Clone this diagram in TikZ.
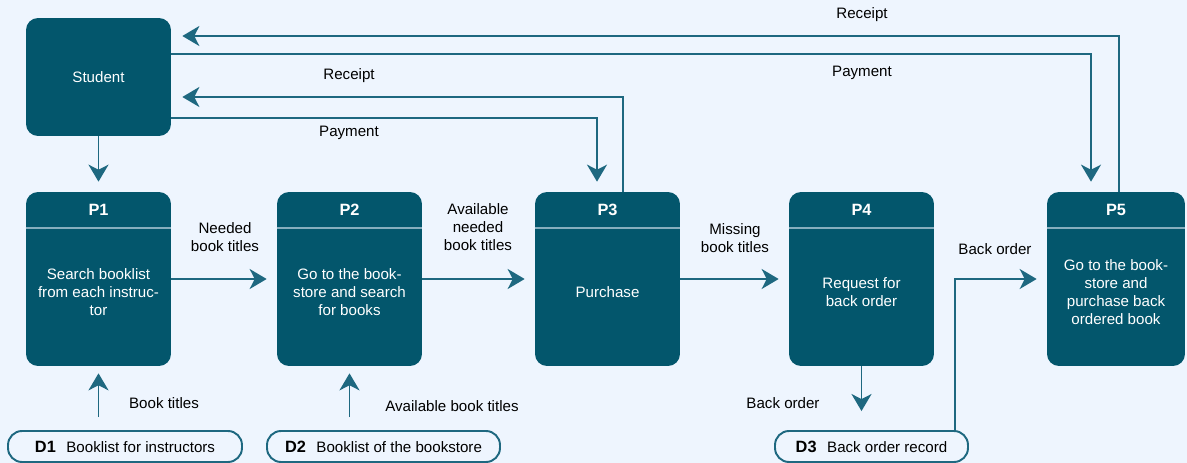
\documentclass[tikz,border=0pt]{standalone}
\usepackage{fontspec}
\setmainfont{Liberation Sans}
\usetikzlibrary{arrows.meta,calc}
\definecolor{BoxTeal}{HTML}{03566C}
\definecolor{FlowTeal}{HTML}{1E6880}
\definecolor{RuleTeal}{HTML}{86AEBE}
\definecolor{PageBlue}{HTML}{EEF5FE}

\begin{document}
\begin{tikzpicture}[x=0.02cm, y=-0.02cm,
  procbox/.style={fill=BoxTeal, rounded corners=0.24cm, minimum height=3.48cm, inner sep=0pt},
  ptitle/.style={text=white, font=\fontsize{9.3}{11}\selectfont\bfseries},
  body/.style={text=white, align=center, font=\fontsize{8.6}{10.2}\selectfont},
  store/.style={draw=FlowTeal, line width=1.1pt, fill=PageBlue, rounded corners=0.28cm, minimum height=0.62cm, font=\fontsize{8.6}{10.2}\selectfont},
  lbl/.style={align=center, font=\fontsize{8.6}{10.2}\selectfont},
  flow/.style={FlowTeal, line width=1.1pt, -{Stealth[length=0.34cm, width=0.4cm, inset=0.1cm]}, shorten >=0.2cm}]
  \fill[PageBlue] (0,0) rectangle (1187,463);
  \useasboundingbox (0,0) rectangle (1187,463);

  % external entity
  \node[procbox, minimum width=2.9cm, minimum height=2.36cm, body] (student) at (98.5,77) {Student};

  % processes
  \foreach \n/\x/\w/\t in {1/98.5/2.9cm/{Search booklist\\from each instruc-\\tor},
      2/349.5/2.9cm/{Go to the book-\\store and search\\for books},
      3/607.5/2.9cm/{Purchase},
      4/861.5/2.9cm/{Request for\\back order},
      5/1116/2.76cm/{Go to the book-\\store and\\purchase back\\ordered book}}{
    \node[procbox, minimum width=\w] (p\n) at (\x,279) {};
    \draw[RuleTeal, line width=1.2pt] ([yshift=-0.72cm]p\n.north west) -- ([yshift=-0.72cm]p\n.north east);
    \node[ptitle] (p\n title) at ([yshift=-0.36cm]p\n.north) {P\n};
    \node[body] (p\n text) at ([yshift=-0.26cm]p\n.center) {\t};
  }

  % data stores
  \node[store, minimum width=4.68cm] (d1) at (125,446.5) {{\fontsize{9.3}{11}\selectfont\bfseries D1}\hspace{6pt}Booklist for instructors};
  \node[store, minimum width=4.66cm] (d2) at (383.5,446.5) {{\fontsize{9.3}{11}\selectfont\bfseries D2}\hspace{6pt}Booklist of the bookstore};
  \node[store, minimum width=3.86cm] (d3) at (871.5,446.5) {{\fontsize{9.3}{11}\selectfont\bfseries D3}\hspace{6pt}Back order record};

  % flows
  \draw[flow] (student) -- (p1);
  \draw[flow] (p1) -- (p2);
  \draw[flow] (p2) -- (p3);
  \draw[flow] (p3) -- (p4);
  \draw[flow] ([xshift=-0.28cm]d3.north east) |- (p5);
  \draw[flow, shorten >=0.38cm] (p4.south) -- (p4.south |- d3.north);
  \draw[flow, shorten <=0.26cm, shorten >=0.14cm] (p1.south |- d1.north) -- (p1.south);
  \draw[flow, shorten <=0.26cm, shorten >=0.14cm] (p2.south |- d2.north) -- (p2.south);
  \draw[flow] ([yshift=-0.82cm]student.east) -| ([xshift=-0.21cm]p3.north);
  \draw[flow, shorten >=0.22cm] ([xshift=0.31cm]p3.north) |- ([yshift=-0.4cm]student.east);
  \draw[flow] ([yshift=0.46cm]student.east) -| ([xshift=-0.5cm]p5.north);
  \draw[flow, shorten >=0.22cm] ([xshift=0.06cm]p5.north) |- ([yshift=0.82cm]student.east);

  % flow labels
  \node[lbl] (lrec5) at (862,15) {Receipt};
  \node[lbl] (lpay5) at (862,73) {Payment};
  \node[lbl] (lrec3) at (349,76) {Receipt};
  \node[lbl] (lpay3) at (349,133) {Payment};
  \node[lbl] (lneed) at (225,237) {Needed\\book titles};
  \node[lbl] (lavail) at (478,227) {Available\\needed\\book titles};
  \node[lbl] (lmiss) at (735,238) {Missing\\book titles};
  \node[lbl] (lback5) at (995,249) {Back order};
  \node[lbl] (lbook) at (164,403) {Book titles};
  \node[lbl] (lavbook) at (452,406) {Available book titles};
  \node[lbl] (lback4) at (783,403) {Back order};
\end{tikzpicture}
\end{document}
